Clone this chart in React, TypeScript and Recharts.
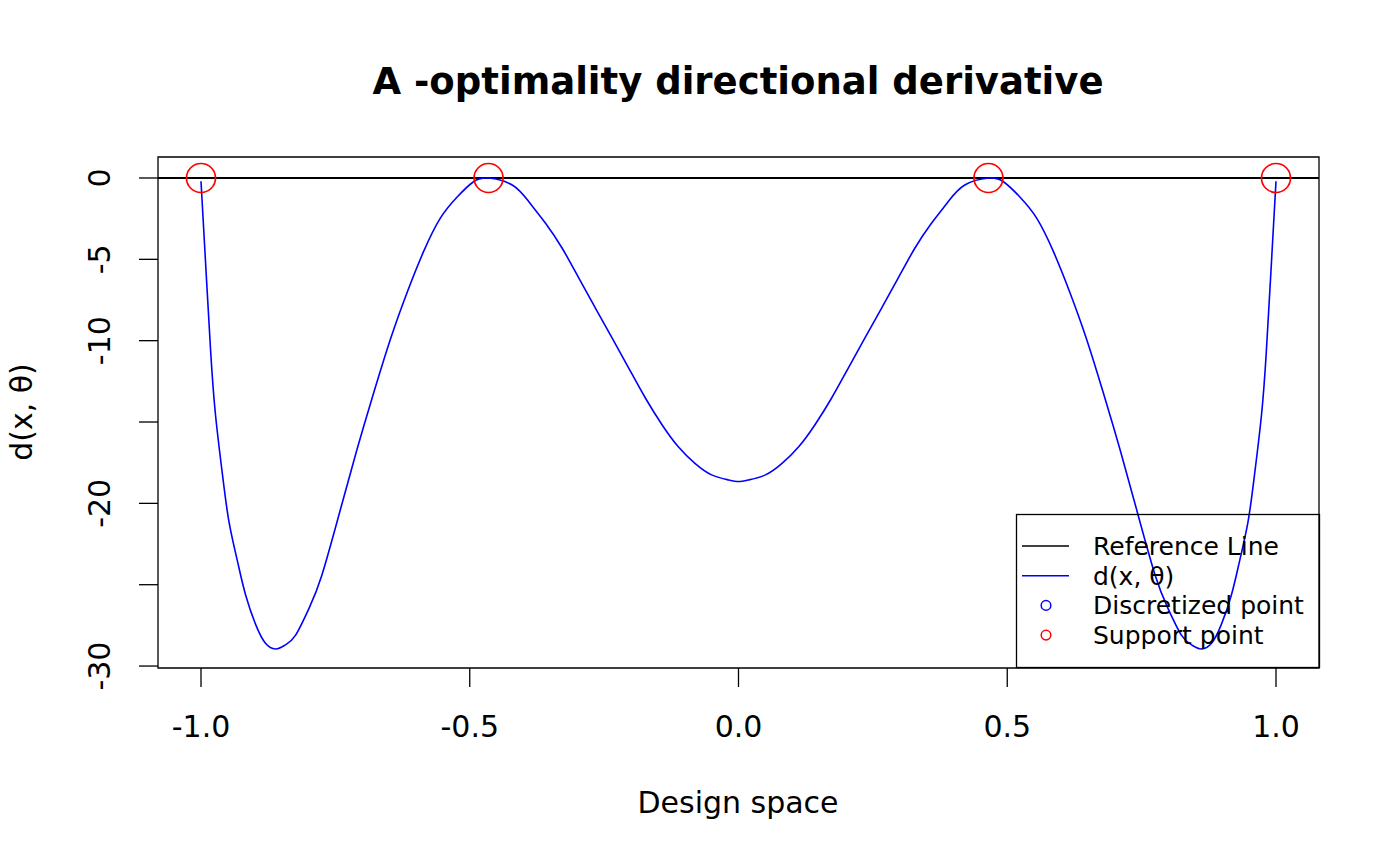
import React from 'react';
import { ComposedChart, Line, Scatter, XAxis, YAxis, ReferenceLine, ReferenceArea, Legend } from 'recharts';

// design points (left half, centre, right half)
const designX = [
  -1, -0.991, -0.982, -0.973, -0.96, -0.948, -0.932, -0.917, -0.898, -0.88, -0.861, -0.843, -0.824,
  -0.799, -0.775, -0.74, -0.709, -0.678, -0.647, -0.616, -0.586, -0.555, -0.523, -0.493, -0.465,
  -0.421, -0.39, -0.359, -0.328, -0.297, -0.266, -0.235, -0.204, -0.173, -0.142, -0.112, -0.081,
  -0.05, -0.019, 0,
  0.019, 0.05, 0.081, 0.112, 0.142, 0.173, 0.204, 0.235, 0.266, 0.297, 0.328, 0.359, 0.39, 0.421,
  0.465, 0.493, 0.523, 0.555, 0.586, 0.616, 0.647, 0.678, 0.709, 0.74, 0.775, 0.799, 0.824, 0.843,
  0.861, 0.88, 0.898, 0.917, 0.932, 0.948, 0.96, 0.973, 0.982, 0.991, 1,
];

const derivValues = [
  -0.2, -5.5, -10.68, -14.57, -18.25, -21.12, -23.58, -25.63, -27.47, -28.6, -28.95, -28.7, -28.1,
  -26.45, -24.4, -20.3, -16.6, -13.13, -9.85, -6.99, -4.53, -2.48, -1.15, -0.23, 0,
  -0.43, -1.46, -2.78, -4.32, -6.16, -8.01, -9.85, -11.7, -13.54, -15.18, -16.52, -17.54,
  -18.25, -18.56, -18.66,
  -18.56, -18.25, -17.54, -16.52, -15.18, -13.54, -11.7, -9.85, -8.01, -6.16, -4.32, -2.78, -1.46, -0.43,
  0, -0.23, -1.15, -2.48, -4.53, -6.99, -9.85, -13.13, -16.6, -20.3, -24.4, -26.45, -28.1, -28.7,
  -28.95, -28.6, -27.47, -25.63, -23.58, -21.12, -18.25, -14.57, -10.68, -5.5, -0.2,
];

const supportX = [-1, -0.465, 0.465, 1];
const supportY = [0, 0, 0, 0];

const xTicks = [-1, -0.5, 0, 0.5, 1];
const xTickLabels = ['-1.0', '-0.5', '0.0', '0.5', '1.0'];
const yTicks = [0, -5, -10, -15, -20, -25, -30];
const yTickLabels = ['0', '-5', '-10', '', '-20', '', '-30'];

const legendLabels = ['Reference Line', 'd(x, θ)', 'Discretized point', 'Support point'];
const legendColors = ['#000000', '#0000ff', '#0000ff', '#ff0000'];
const legendKinds = ['line', 'line', 'point', 'point'];

const curveData = designX.map((x, i) => ({ x, d: derivValues[i] }));
const supportData = supportX.map((x, i) => ({ x, d: supportY[i] }));

const FONT = '"DejaVu Sans", sans-serif';

const XTick = (props: any) => {
  const { x, y, payload } = props;
  const idx = xTicks.indexOf(payload.value);
  return (
    <text x={x} y={y + 50} textAnchor="middle" fontSize={30} fontFamily={FONT} fill="#000">
      {xTickLabels[idx]}
    </text>
  );
};

const YTick = (props: any) => {
  const { x, y, payload } = props;
  const idx = yTicks.indexOf(payload.value);
  const bx = x - 29;
  return (
    <text x={bx} y={y} transform={`rotate(-90, ${bx}, ${y})`} textAnchor="middle" fontSize={30} fontFamily={FONT} fill="#000">
      {yTickLabels[idx]}
    </text>
  );
};

const LegendBox = () => (
  <svg width={305} height={155} style={{ overflow: 'visible' }}>
    <rect x={0.5} y={0.5} width={303} height={153} fill="none" stroke="#000" strokeWidth={1.3} />
    {legendLabels.map((label, i) => {
      const cy = 32 + i * 29.7;
      return (
        <g key={label}>
          {legendKinds[i] === 'line' ? (
            <line x1={6} x2={53} y1={cy} y2={cy} stroke={legendColors[i]} strokeWidth={1.5} />
          ) : (
            <circle cx={30} cy={cy} r={4.8} fill="none" stroke={legendColors[i]} strokeWidth={1.5} />
          )}
          <text x={77} y={cy + 9} fontSize={25} fontFamily={FONT} fill="#000">
            {label}
          </text>
        </g>
      );
    })}
  </svg>
);

const SupportCircle = (props: any) => {
  const { cx, cy } = props;
  return <circle cx={cx} cy={cy} r={14.5} fill="none" stroke="#ff0000" strokeWidth={1.7} />;
};

export default function App() {
  return (
    <div style={{ position: 'absolute', left: 0, top: 0, width: 1400, height: 865, background: '#fff' }}>
      <svg width={1400} height={865} style={{ position: 'absolute', left: 0, top: 0 }}>
        <text x={738} y={94} textAnchor="middle" fontSize={37} fontWeight="bold" fontFamily={FONT} fill="#000">
          A -optimality directional derivative
        </text>
        <text x={738} y={813} textAnchor="middle" fontSize={30} fontFamily={FONT} fill="#000">
          Design space
        </text>
        <text x={32} y={412} transform="rotate(-90, 32, 412)" textAnchor="middle" fontSize={30} fontFamily={FONT} fill="#000">
          d(x, θ)
        </text>
      </svg>
      <div style={{ position: 'absolute', left: 0, top: 0 }}>
        <ComposedChart width={1400} height={865} margin={{ top: 157, right: 81, bottom: 137, left: 98 }}>
          <XAxis
            type="number"
            dataKey="x"
            domain={[-1.08, 1.08]}
            ticks={xTicks}
            height={60}
            axisLine={false}
            tickLine={{ stroke: '#000', strokeWidth: 1.3 }}
            tickSize={19}
            tickMargin={0}
            tick={<XTick />}
            allowDataOverflow
          />
          <YAxis
            type="number"
            dataKey="d"
            domain={[-30.12, 1.29]}
            ticks={yTicks}
            width={60}
            axisLine={false}
            tickLine={{ stroke: '#000', strokeWidth: 1.3 }}
            tickSize={19}
            tickMargin={0}
            tick={<YTick />}
            interval={0}
            allowDataOverflow
          />
          <ReferenceArea x1={-1.08} x2={1.08} y1={-30.12} y2={1.29} fill="none" stroke="#000" strokeWidth={1.3} />
          <ReferenceLine y={0} stroke="#000" strokeWidth={1.8} />
          <Line
            data={curveData}
            dataKey="d"
            type="natural"
            stroke="#0000ff"
            strokeWidth={1.6}
            dot={false}
            isAnimationActive={false}
          />
          <Scatter data={supportData} dataKey="d" shape={<SupportCircle />} isAnimationActive={false} />
          <Legend
            layout="vertical"
            align="center"
            verticalAlign="middle"
            content={<LegendBox />}
            wrapperStyle={{ position: 'absolute', left: 1016, top: 514, width: 305, height: 155, bottom: 'auto', right: 'auto', margin: 0 }}
          />
        </ComposedChart>
      </div>
    </div>
  );
}
